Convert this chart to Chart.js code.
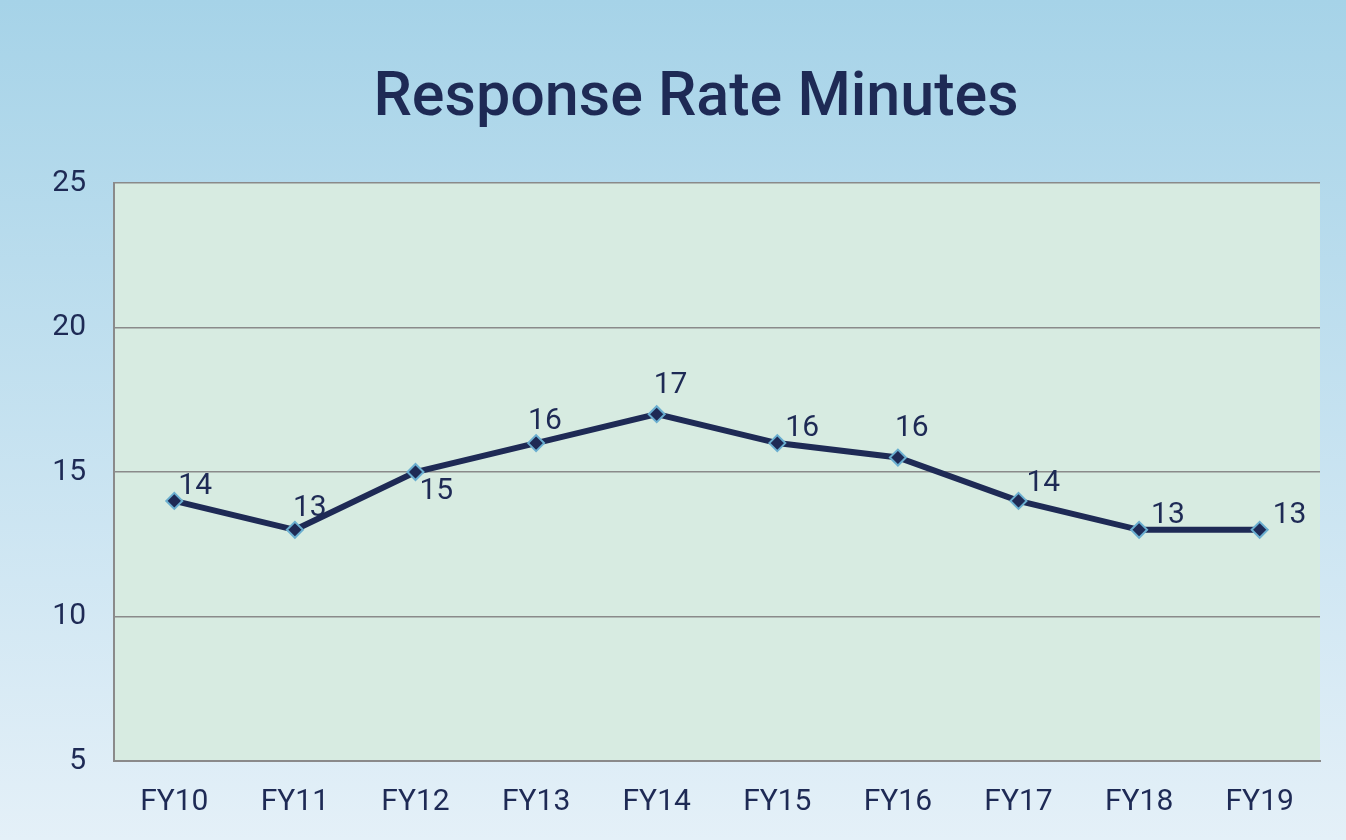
<!DOCTYPE html>
<html>
<head>
<meta charset="utf-8">
<title>Response Rate Minutes</title>
<script src="https://cdn.jsdelivr.net/npm/chart.js@4/dist/chart.umd.min.js"></script>
<style>
  html, body { margin: 0; padding: 0; background: #e3eff7; }
  #wrap { width: 1346px; height: 840px; }
</style>
</head>
<body>
<div id="wrap"><canvas id="chart" width="1346" height="840"></canvas></div>
<script>
const years = ['FY10', 'FY11', 'FY12', 'FY13', 'FY14', 'FY15', 'FY16', 'FY17', 'FY18', 'FY19']
const minutes = [14, 13, 15, 16, 17, 16, 15.5, 14, 13, 13]
const yTicks = [5, 10, 15, 20, 25]
const chartTitle = 'Response Rate Minutes'

// where each value label sits relative to its point (dx = left edge, dy = baseline)
const labelOffsets = [
  [4, -7], [-2, -14], [4, 27], [-8, -14], [-3, -21],
  [8, -7], [-3, -22], [8, -10], [12, -7], [13, -7],
]

const navy = '#1e2a55'
const fontFamily = 'Roboto, "Noto Sans", sans-serif'

const backdrop = {
  id: 'backdrop',
  beforeDraw(chart) {
    const { ctx, width, height, chartArea } = chart
    ctx.save()
    const g = ctx.createLinearGradient(0, 0, 0, height)
    g.addColorStop(0, '#a6d3e8')
    g.addColorStop(1, '#e4f0f8')
    ctx.fillStyle = g
    ctx.fillRect(0, 0, width, height)
    ctx.fillStyle = '#d7ebe1'
    ctx.fillRect(chartArea.left, chartArea.top, chartArea.right - chartArea.left, chartArea.bottom - chartArea.top)

    // title, centred a little right of the canvas middle like the original
    ctx.font = '500 61px ' + fontFamily
    ctx.fillStyle = navy
    ctx.textAlign = 'center'
    ctx.textBaseline = 'alphabetic'
    ctx.fillText(chartTitle, 696, 115)
    ctx.restore()
  },
}

const valueLabels = {
  id: 'valueLabels',
  afterDatasetsDraw(chart) {
    const { ctx } = chart
    const meta = chart.getDatasetMeta(0)
    ctx.save()
    ctx.font = '30px ' + fontFamily
    ctx.fillStyle = navy
    ctx.textAlign = 'left'
    ctx.textBaseline = 'alphabetic'
    meta.data.forEach((pt, i) => {
      const [dx, dy] = labelOffsets[i]
      ctx.fillText(String(Math.round(minutes[i])), pt.x + dx, pt.y + dy)
    })
    ctx.restore()
  },
}

new Chart(document.getElementById('chart'), {
  type: 'line',
  data: {
    labels: years,
    datasets: [{
      label: 'Minutes',
      data: minutes,
      borderColor: navy,
      borderWidth: 6,
      tension: 0,
      pointStyle: 'rectRot',
      pointRadius: 8,
      pointBackgroundColor: navy,
      pointBorderColor: '#6aaed0',
      pointBorderWidth: 2,
    }],
  },
  options: {
    responsive: false,
    animation: false,
    devicePixelRatio: 1,
    layout: {
      padding: { left: 0, right: 26, top: 183, bottom: 0 },
    },
    plugins: {
      legend: { display: false },
      tooltip: { enabled: false },
      title: { display: false },
    },
    scales: {
      x: {
        offset: true,
        grid: { display: false, drawTicks: false },
        border: { display: true, color: '#8a8a8a', width: 2 },
        ticks: {
          color: navy,
          padding: 23,
          font: { family: fontFamily, size: 30 },
        },
        afterFit(scale) { scale.height = 79 },
      },
      y: {
        min: 5,
        max: 25,
        afterBuildTicks(scale) { scale.ticks = yTicks.map(v => ({ value: v })) },
        grid: { color: '#8a8a8a', lineWidth: 1.5, drawTicks: false },
        border: { display: true, color: '#8a8a8a', width: 2 },
        ticks: {
          color: navy,
          padding: 28,
          font: { family: fontFamily, size: 30 },
        },
        afterFit(scale) { scale.width = 114 },
      },
    },
  },
  plugins: [backdrop, valueLabels],
})
</script>
</body>
</html>
